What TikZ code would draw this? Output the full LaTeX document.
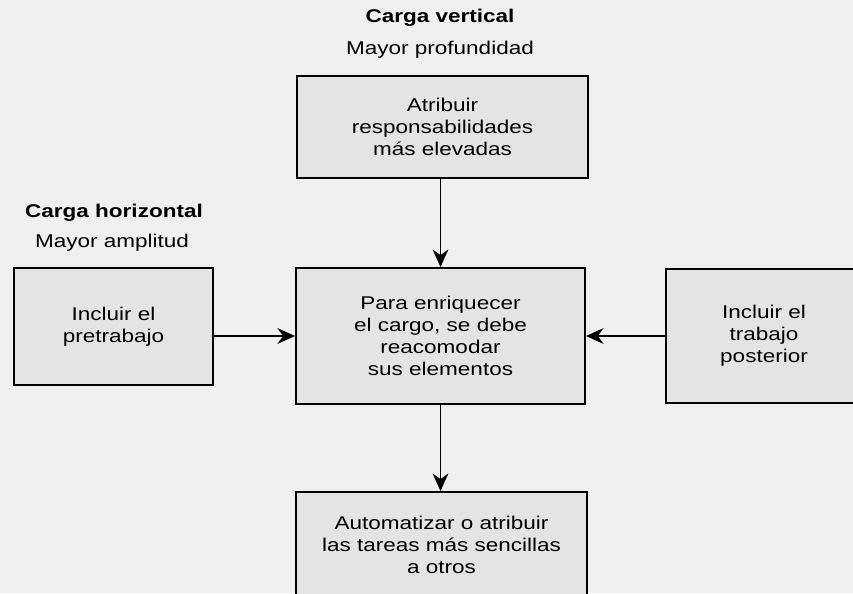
\documentclass[tikz,border=0pt]{standalone}
\usepackage{fontspec}
\setmainfont{Liberation Sans}[FakeStretch=1.22]
\usepackage{tikz}
\usetikzlibrary{
  arrows.meta,
  positioning
}
\usepackage{xcolor}
\definecolor{paperbg}{RGB}{240,240,240}
\definecolor{boxbg}{RGB}{228,228,228}

\tikzset{
  cajabox/.style={draw=black, line width=1.1pt, fill=boxbg, align=center,
    inner sep=2pt, font=\fontsize{10.5}{12.6}\selectfont},
  flecha/.style={line width=0.9pt, -{Stealth[length=10pt,width=9pt]}},
  titulo/.style={font=\fontsize{10.5}{12.6}\selectfont\bfseries, inner sep=0pt},
  subtitulo/.style={font=\fontsize{10.5}{12.6}\selectfont, inner sep=0pt}
}

\begin{document}
\begin{tikzpicture}
  % page and background
  \useasboundingbox (0,0) rectangle (17.06,11.86);
  \fill[paperbg] (0,0) rectangle (17.06,11.86);

  % boxes
  \node[cajabox, minimum width=5.82cm, minimum height=2.04cm] (atribuir) at (8.85,9.32)
    {Atribuir\\responsabilidades\\más elevadas};
  \node[cajabox, minimum width=5.78cm, minimum height=2.72cm] (cargo) at (8.81,5.14)
    {Para enriquecer\\el cargo, se debe\\reacomodar\\sus elementos};
  \node[cajabox, minimum width=3.98cm, minimum height=2.34cm] (pre) at (2.27,5.33)
    {Incluir el\\pretrabajo};
  \node[cajabox, minimum width=3.92cm, minimum height=2.68cm] (post) at (15.28,5.14)
    {Incluir el\\trabajo\\posterior};
  \node[cajabox, minimum width=5.82cm, minimum height=2.12cm] (auto) at (8.83,0.96)
    {Automatizar o atribuir\\las tareas más sencillas\\a otros};

  % headings
  \node[titulo] (cvert) at (8.8,11.5) {Carga vertical};
  \node[subtitulo] (prof) at (8.8,10.86) {Mayor profundidad};
  \node[titulo] (chor) at (2.28,7.6) {Carga horizontal};
  \node[subtitulo] (ampl) at (2.24,7.0) {Mayor amplitud};

  % arrows
  \draw[flecha] (atribuir.south -| cargo.north) -- (cargo.north);
  \draw[flecha] (pre.east |- cargo.west) -- (cargo.west);
  \draw[flecha] (post.west) -- (cargo.east);
  \draw[flecha] (cargo.south) -- (cargo.south |- auto.north);
\end{tikzpicture}
\end{document}
